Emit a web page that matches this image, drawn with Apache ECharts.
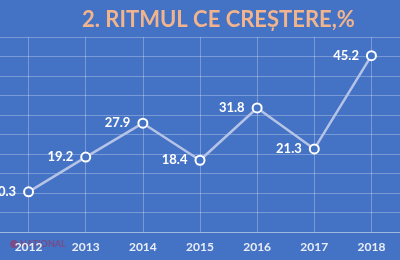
<!DOCTYPE html>
<html><head><meta charset="utf-8">
<script src="https://cdn.jsdelivr.net/npm/echarts@6/dist/echarts.min.js"></script>
<style>html,body{margin:0;padding:0;background:#4472c4;}#c{width:400px;height:260px;}</style>
</head><body><div id="c"></div>
<script>
const categories = ['2012','2013','2014','2015','2016','2017','2018'];
const values = [10.3, 19.2, 27.9, 18.4, 31.8, 21.3, 45.2];
const titleText = '2. RITMUL CE CREȘTERE,%';

const chart = echarts.init(document.getElementById('c'));
chart.setOption({
  backgroundColor: '#4472c4',
  animation: false,
  title: {
    text: titleText, left: 77, top: 4,
    textStyle: {color: '#f2b48c', fontFamily: 'Lato', fontWeight: 'bold', fontSize: 22}
  },
  grid: {left: 0, right: 0, top: 37, bottom: 28},
  xAxis: {
    type: 'category', data: categories, boundaryGap: true,
    axisLine: {show: true, lineStyle: {color: 'rgba(255,255,255,0.3)', width: 1}},
    axisTick: {show: false},
    axisLabel: {color: '#e9edf6', fontFamily: 'Lato', fontWeight: 'bold', fontSize: 12, margin: 9},
    splitLine: {show: true, alignWithLabel: true, lineStyle: {color: 'rgba(255,255,255,0.28)', width: 1}}
  },
  yAxis: {
    type: 'value', min: 0, max: 50, interval: 5,
    axisLabel: {show: false}, axisLine: {show: false}, axisTick: {show: false},
    splitLine: {lineStyle: {color: 'rgba(255,255,255,0.28)', width: 1}}
  },
  series: [{
    type: 'line', data: values,
    symbol: 'circle', symbolSize: 9,
    lineStyle: {color: '#b4c3e6', width: 2.5},
    itemStyle: {color: '#4472c4', borderColor: '#ffffff', borderWidth: 2},
    label: {show: true, position: 'left', distance: 7, color: '#ffffff', fontFamily: 'Lato', fontSize: 13, fontWeight: 'bold'}
  }],
  graphic: [{
    type: 'circle', z: -10, shape: {cx: 14, cy: 244, r: 4},
    style: {fill: 'rgba(170,40,80,0.5)'}
  }, {
    type: 'text', z: -10, left: 20, top: 240,
    style: {text: 'NAȚIONAL', fill: 'rgba(170,40,80,0.5)', font: 'bold 9px Lato'}
  }]
});
</script></body></html>
